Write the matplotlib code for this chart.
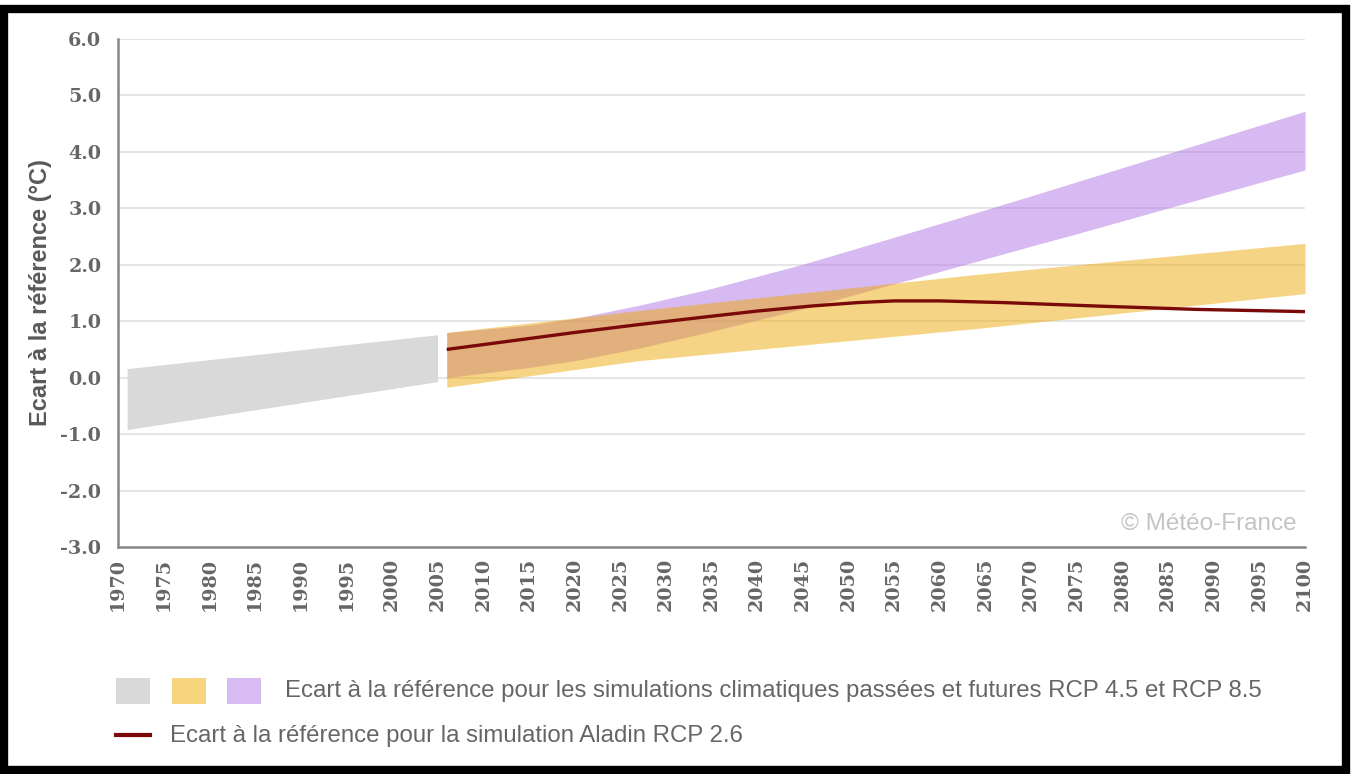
import matplotlib
matplotlib.use("Agg")
import matplotlib.pyplot as plt
from matplotlib.patches import Rectangle
from matplotlib.lines import Line2D

# historical simulations (grey band)
hist_years = [1971, 2005]
hist_low = [-0.92, -0.07]
hist_high = [0.16, 0.76]

# RCP 4.5 band (yellow)
rcp45_years = [2006, 2027, 2060, 2064, 2100]
rcp45_low = [-0.17, 0.30, 0.81, 0.87, 1.49]
rcp45_high = [0.80, 1.19, 1.76, 1.83, 2.38]

# RCP 8.5 band (purple)
rcp85_years = [2006, 2015, 2020, 2027, 2035, 2045, 2054, 2060, 2070, 2075, 2086, 2100]
rcp85_low = [0.00, 0.18, 0.30, 0.52, 0.82, 1.22, 1.62, 1.88, 2.33, 2.55, 3.05, 3.68]
rcp85_high = [0.80, 0.93, 1.05, 1.28, 1.58, 2.01, 2.44, 2.73, 3.22, 3.47, 4.02, 4.72]

# Aladin RCP 2.6
aladin_years = [2006, 2013, 2020, 2027, 2034, 2040, 2046, 2051, 2055, 2060, 2067, 2077, 2088, 2100]
aladin_vals = [0.50, 0.65, 0.80, 0.94, 1.07, 1.18, 1.27, 1.33, 1.36, 1.36, 1.33, 1.27, 1.21, 1.17]

x_ticks = list(range(1970, 2101, 5))
y_ticks = [-3, -2, -1, 0, 1, 2, 3, 4, 5, 6]

legend_bands = "Ecart à la référence pour les simulations climatiques passées et futures RCP 4.5 et RCP 8.5"
legend_line = "Ecart à la référence pour la simulation Aladin RCP 2.6"

grey = "#d9d9d9"
purple = (0.694, 0.467, 0.898, 0.5)
yellow = (0.933, 0.655, 0.0, 0.48)
red = "#7a0a0a"
txt = "#666666"

W, H = 1354, 774
fig = plt.figure(figsize=(W / 100, H / 100), dpi=100)

# black frame around the picture
fig.patches.append(Rectangle((4 / W, 4 / H), 1 - 12 / W, 1 - 13 / H, transform=fig.transFigure,
                             fill=False, edgecolor="black", linewidth=6))

ax = fig.add_axes([118 / W, 1 - 547 / H, (1305 - 118) / W, (547 - 39) / H])

ax.fill_between(hist_years, hist_low, hist_high, color=grey, linewidth=0, zorder=2)
ax.fill_between(rcp85_years, rcp85_low, rcp85_high, color=purple, linewidth=0, zorder=2)
ax.fill_between(rcp45_years, rcp45_low, rcp45_high, color=yellow, linewidth=0, zorder=3)
ax.plot(aladin_years, aladin_vals, color=red, linewidth=2.4, zorder=4, clip_on=False,
        solid_capstyle="butt", solid_joinstyle="round")

ax.set_xlim(1970, 2100)
ax.set_ylim(-3, 6)
ax.set_xticks(x_ticks)
ax.set_yticks(y_ticks)
ax.set_yticklabels(["%.1f" % v for v in y_ticks])
ax.yaxis.grid(True, color="#e3e3e3", linewidth=1.3, zorder=0)
ax.set_axisbelow(True)

for s in ["top", "right"]:
    ax.spines[s].set_visible(False)
for s in ["left", "bottom"]:
    ax.spines[s].set_color("#888888")
    ax.spines[s].set_linewidth(1.8)

ax.tick_params(length=0, colors=txt)
ax.tick_params(axis="y", pad=12)
ax.tick_params(axis="x", pad=8)
for lab in ax.get_yticklabels() + ax.get_xticklabels():
    lab.set_fontfamily("DejaVu Serif")
    lab.set_fontweight("bold")
    lab.set_fontsize(13.8)
for lab in ax.get_xticklabels():
    lab.set_rotation(90)

fig.text(41 / W, 1 - 293 / H, "Ecart à la référence (°C)", rotation=90, ha="center", va="center",
         fontsize=17, fontweight="bold", color="#595959", family="Liberation Sans")

ax.text(0.993, 0.045, "© Météo-France", transform=ax.transAxes, ha="right", va="center",
        fontsize=17.5, color="#c4c4c4", family="Liberation Sans")

# legend drawn by hand below the chart
for x0, c in [(116, grey), (172, "#f7d57e"), (227, "#d8bbf2")]:
    fig.patches.append(Rectangle((x0 / W, 1 - 704 / H), 34 / W, 26 / H,
                                 transform=fig.transFigure, color=c, linewidth=0))
fig.text(285 / W, 1 - 691 / H, legend_bands, ha="left", va="center", fontsize=17.3,
         color=txt, family="Liberation Sans")
fig.lines.append(Line2D([116 / W, 150 / W], [1 - 735 / H, 1 - 735 / H], transform=fig.transFigure,
                        color=red, linewidth=3))
fig.text(170 / W, 1 - 736 / H, legend_line, ha="left", va="center", fontsize=17.3,
         color=txt, family="Liberation Sans")

fig.savefig("out.png", dpi=100)
